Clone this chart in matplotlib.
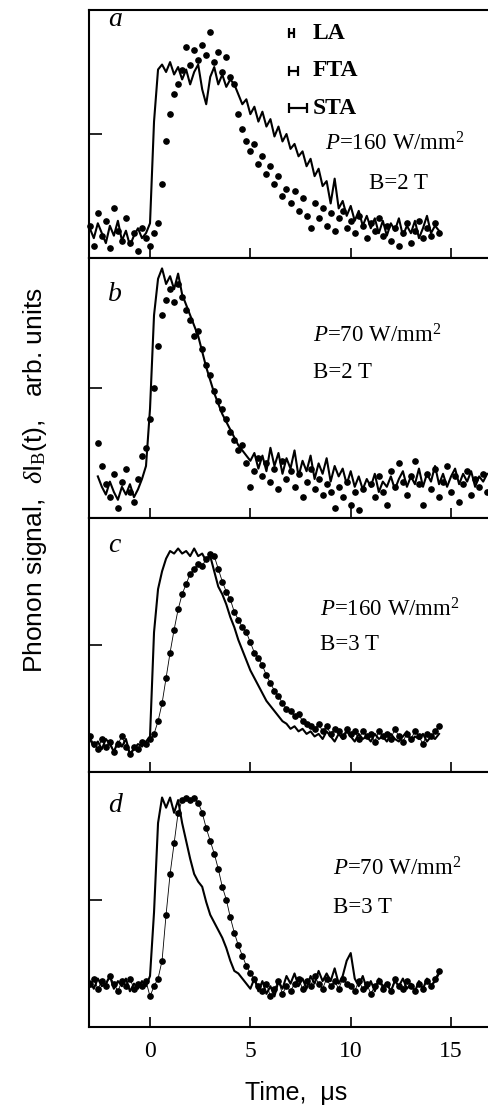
import numpy as np
import matplotlib as mpl
mpl.use('Agg')
import matplotlib.pyplot as plt

mpl.rcParams['font.family'] = 'serif'
mpl.rcParams['font.serif'] = ['Liberation Serif', 'DejaVu Serif']
mpl.rcParams['mathtext.fontset'] = 'custom'
mpl.rcParams['mathtext.rm'] = 'Liberation Serif'
mpl.rcParams['mathtext.it'] = 'Liberation Serif:italic'
mpl.rcParams['xtick.direction'] = 'in'
mpl.rcParams['ytick.direction'] = 'in'

# time grids, us
t_a = np.round(np.arange(-3.0, 14.41, 0.2), 1)     # panels a, c, d
t_b = np.round(np.arange(-2.6, 16.81, 0.2), 1)     # panel b

# ---- panel a: P=160 W/mm2, B=2 T
a_line = [0.12, 0.08, 0.14, 0.10, 0.06, 0.13, 0.09, 0.15, 0.07, 0.11, 0.05, 0.09, 0.12, 0.08, 0.10,
          0.14, 0.55, 0.76, 0.78, 0.75, 0.79, 0.74, 0.77, 0.72, 0.76, 0.70, 0.75, 0.78, 0.68, 0.62,
          0.73, 0.77, 0.70, 0.74, 0.69, 0.72, 0.70, 0.66, 0.62, 0.64, 0.58, 0.61, 0.55, 0.59, 0.53,
          0.56, 0.49, 0.53, 0.47, 0.50, 0.44, 0.46, 0.41, 0.43, 0.37, 0.40, 0.33, 0.36, 0.29, 0.31,
          0.22, 0.32, 0.20, 0.23, 0.17, 0.21, 0.15, 0.19, 0.13, 0.17, 0.12, 0.16, 0.10, 0.15, 0.09,
          0.14, 0.11, 0.16, 0.09, 0.13, 0.10, 0.15, 0.08, 0.12, 0.17, 0.10, 0.13, 0.11]
a_dots = [0.13, 0.05, 0.18, 0.09, 0.15, 0.04, 0.20, 0.11, 0.07, 0.16, 0.06, 0.10, 0.03, 0.12, 0.08,
          0.05, 0.10, 0.14, 0.30, 0.47, 0.58, 0.66, 0.70, 0.76, 0.85, 0.78, 0.84, 0.80, 0.86, 0.82,
          0.91, 0.79, 0.83, 0.75, 0.81, 0.73, 0.70, 0.58, 0.52, 0.47, 0.43, 0.46, 0.38, 0.41, 0.34,
          0.37, 0.30, 0.33, 0.25, 0.28, 0.22, 0.27, 0.19, 0.24, 0.17, 0.12, 0.22, 0.16, 0.20, 0.13,
          0.18, 0.11, 0.16, 0.19, 0.12, 0.15, 0.10, 0.17, 0.13, 0.08, 0.14, 0.11, 0.16, 0.09, 0.13,
          0.07, 0.12, 0.05, 0.10, 0.14, 0.06, 0.11, 0.15, 0.08, 0.12, 0.09, 0.14, 0.10]

# ---- panel b: P=70 W/mm2, B=2 T
b_line = [0.16, 0.12, 0.09, 0.14, 0.10, 0.07, 0.12, 0.09, 0.13, 0.08, 0.11, 0.15, 0.20,
          0.42, 0.78, 0.92, 0.96, 0.90, 0.93, 0.88, 0.94, 0.86, 0.82, 0.78, 0.74, 0.70, 0.64,
          0.58, 0.53, 0.48, 0.44, 0.40, 0.37, 0.34, 0.31, 0.28, 0.26, 0.24, 0.22, 0.25, 0.19,
          0.24, 0.18, 0.27, 0.20, 0.25, 0.17, 0.23, 0.19, 0.26, 0.16, 0.22, 0.18, 0.24, 0.15,
          0.21, 0.17, 0.23, 0.14, 0.20, 0.16, 0.19, 0.13, 0.18, 0.12, 0.16, 0.11, 0.15, 0.12,
          0.17, 0.10, 0.14, 0.12, 0.16, 0.11, 0.15, 0.18, 0.12, 0.16, 0.13, 0.19, 0.12, 0.17,
          0.14, 0.20, 0.13, 0.17, 0.12, 0.16, 0.19, 0.13, 0.17, 0.14, 0.18, 0.12, 0.16, 0.14, 0.17]
b_dots = [0.29, 0.20, 0.13, 0.08, 0.17, 0.04, 0.14, 0.19, 0.10, 0.06, 0.15, 0.24, 0.27,
          0.38, 0.50, 0.66, 0.78, 0.84, 0.88, 0.83, 0.90, 0.85, 0.80, 0.76, 0.70, 0.72, 0.65,
          0.59, 0.55, 0.49, 0.45, 0.42, 0.38, 0.33, 0.30, 0.26, 0.28, 0.21, 0.12, 0.18, 0.23,
          0.16, 0.21, 0.14, 0.19, 0.11, 0.22, 0.15, 0.18, 0.12, 0.17, 0.08, 0.14, 0.19, 0.11,
          0.15, 0.09, 0.13, 0.10, 0.04, 0.12, 0.08, 0.14, 0.05, 0.10, 0.03, 0.11, -0.03, 0.13,
          0.08, 0.16, 0.10, 0.05, 0.18, 0.12, 0.21, 0.14, 0.09, 0.16, 0.22, 0.13, 0.05, 0.17,
          0.11, 0.19, 0.08, 0.14, 0.20, 0.10, 0.16, 0.06, 0.13, 0.18, 0.09, 0.15, 0.12, 0.17, 0.10]

# ---- panel c: P=160 W/mm2, B=3 T
c_line = [0.13, 0.10, 0.12, 0.09, 0.13, 0.11, 0.08, 0.12, 0.10, 0.13, 0.07, 0.09, 0.11, 0.10, 0.12,
          0.14, 0.55, 0.72, 0.79, 0.84, 0.87, 0.86, 0.88, 0.86, 0.87, 0.85, 0.88, 0.85, 0.86, 0.83,
          0.85, 0.79, 0.73, 0.70, 0.66, 0.61, 0.57, 0.52, 0.48, 0.44, 0.40, 0.37, 0.34, 0.31, 0.28,
          0.26, 0.24, 0.22, 0.20, 0.19, 0.17, 0.18, 0.16, 0.17, 0.15,
          0.16, 0.14, 0.15, 0.13, 0.16, 0.14, 0.12, 0.15, 0.13, 0.16, 0.14, 0.12, 0.15, 0.13, 0.14,
          0.12, 0.15, 0.13, 0.14, 0.12, 0.15, 0.13, 0.12, 0.14, 0.16, 0.12, 0.14, 0.13, 0.15, 0.12,
          0.14, 0.13, 0.15]
c_dots = [0.14, 0.11, 0.09, 0.13, 0.10, 0.12, 0.08, 0.11, 0.14, 0.10, 0.07, 0.10, 0.09, 0.12, 0.11,
          0.13, 0.15, 0.20, 0.27, 0.37, 0.47, 0.56, 0.64, 0.70, 0.74, 0.78, 0.80, 0.82, 0.81, 0.84,
          0.86, 0.85, 0.80, 0.75, 0.71, 0.68, 0.63, 0.60, 0.57, 0.55, 0.51, 0.47, 0.45, 0.42, 0.38,
          0.35, 0.32, 0.30, 0.27, 0.25, 0.24, 0.22, 0.23, 0.20, 0.19, 0.18,
          0.17, 0.19, 0.16, 0.18, 0.15, 0.17, 0.16, 0.14, 0.17, 0.15, 0.16, 0.13, 0.16, 0.14, 0.15,
          0.12, 0.16, 0.14, 0.15, 0.13, 0.17, 0.14, 0.12, 0.15, 0.13, 0.16, 0.14, 0.11, 0.15, 0.14,
          0.16, 0.18]

# ---- panel d: P=70 W/mm2, B=3 T
d_line = [0.18, 0.15, 0.19, 0.16, 0.17, 0.20, 0.15, 0.18, 0.16, 0.19, 0.14, 0.17, 0.15, 0.18, 0.16,
          0.20, 0.45, 0.80, 0.90, 0.86, 0.90, 0.84, 0.89, 0.80, 0.73, 0.66, 0.60, 0.57, 0.55, 0.49,
          0.44, 0.41, 0.38, 0.35, 0.31, 0.26, 0.22, 0.21, 0.19, 0.17,
          0.15, 0.19, 0.14, 0.18, 0.13, 0.16, 0.12, 0.18, 0.15, 0.20, 0.17, 0.21, 0.16, 0.19, 0.15,
          0.20, 0.17, 0.22, 0.18, 0.21, 0.18, 0.23, 0.17, 0.20, 0.26, 0.29, 0.19, 0.16, 0.20, 0.15,
          0.18, 0.14, 0.19, 0.16, 0.17, 0.14, 0.18, 0.16, 0.19, 0.15, 0.17, 0.14, 0.18, 0.15, 0.19,
          0.16, 0.18, 0.21]
d_dots = [0.17, 0.19, 0.15, 0.18, 0.16, 0.20, 0.17, 0.14, 0.18, 0.16, 0.19, 0.15, 0.17, 0.16, 0.18,
          0.12, 0.16, 0.19, 0.26, 0.44, 0.60, 0.72, 0.84, 0.89, 0.90, 0.89, 0.90, 0.88, 0.84, 0.78,
          0.73, 0.68, 0.62, 0.55, 0.50, 0.43, 0.37, 0.32, 0.28, 0.24, 0.21,
          0.19, 0.16, 0.14, 0.17, 0.12, 0.15, 0.18, 0.13, 0.16, 0.14, 0.17, 0.19, 0.15, 0.18, 0.16,
          0.20, 0.17, 0.15, 0.19, 0.16, 0.18, 0.15, 0.19, 0.17, 0.16, 0.14, 0.18, 0.15, 0.17, 0.13,
          0.16, 0.18, 0.15, 0.17, 0.14, 0.19, 0.16, 0.15, 0.18, 0.16, 0.14, 0.17, 0.15, 0.18, 0.16,
          0.19, 0.22]

panel_letters = ['a', 'b', 'c', 'd']
powers = ['160', '70', '160', '70']
fields = ['B=2 T', 'B=2 T', 'B=3 T', 'B=3 T']

# mode time-spread bars in panel a
mode_names = ['LA', 'FTA', 'STA']
mode_widths = [0.25, 0.45, 0.9]

series = [(t_a, a_line, a_dots), (t_b, b_line, b_dots),
          (t_a, c_line, c_dots), (t_a, d_line, d_dots)]

# panel edges in pixels (top, bottom)
W, H = 488, 1116
edges = [(10, 258), (258, 518), (518, 772), (772, 1027)]
left_px = 89

# text positions (x in us, y in axes fraction)
letter_y = [0.96, 0.86, 0.89, 0.87]
note_x = [8.7, 8.1, 8.45, 9.1]
note_x2 = [10.9, 8.1, 8.45, 9.1]
note_y = [(0.46, 0.30), (0.70, 0.56), (0.64, 0.50), (0.62, 0.47)]

sans = ['Liberation Sans', 'DejaVu Sans']

fig = plt.figure(figsize=(W / 100., H / 100.), dpi=100)

for k, (t, yl, yd) in enumerate(series):
    top, bot = edges[k]
    ax = fig.add_axes([left_px / W, 1 - bot / H, 1 - left_px / W, (bot - top) / H])
    ax.plot(t, yl, color='black', lw=1.5, zorder=3)
    if k < 2:
        ax.plot(t, yd, ls='none', marker='o', ms=3.8, color='black',
                clip_on=False, zorder=2)
    else:
        ax.plot(t, yd, ls='-', lw=0.6, marker='o', ms=3.8, color='black', zorder=2)

    ax.set_xlim(-3.04, 16.84)
    ax.set_ylim(0, 1)
    ax.set_xticks([0, 5, 10, 15])
    ax.set_yticks([0.5])
    ax.set_yticklabels([])
    ax.tick_params(axis='x', length=7, width=1.2, labelsize=17, pad=10)
    ax.tick_params(axis='y', length=9, width=1.2)
    if k < 3:
        ax.set_xticklabels([])
    ax.spines['right'].set_visible(False)
    for s in ('left', 'top', 'bottom'):
        ax.spines[s].set_linewidth(1.5)

    tr = ax.get_xaxis_transform()
    ax.text(-2.1, letter_y[k], panel_letters[k], transform=tr,
            style='italic', fontsize=20, va='center', ha='left')
    ax.text(note_x[k], note_y[k][0], '$P$=%s W/mm$^2$' % powers[k],
            transform=tr, fontsize=16.5, va='center')
    ax.text(note_x2[k], note_y[k][1], fields[k],
            transform=tr, fontsize=16.5, va='center')

    if k == 0:
        for m, (name, w) in enumerate(zip(mode_names, mode_widths)):
            yy = 0.907 - 0.152 * m
            ax.errorbar(6.92 + w / 2, yy, xerr=w / 2, color='black', lw=1.6,
                        capsize=3.5, capthick=1.6, fmt='none', transform=tr)
            ax.text(8.1, yy, name, transform=tr,
                    fontsize=17, fontweight='bold', va='center')

fig.text(0.607, 1 - 1093 / H, 'Time,  \u03bcs', family=sans,
         fontsize=18, ha='center', va='center')
fig.text(0.072, 1 - 480 / H, 'Phonon signal,  $\\delta$I$_{\\rm B}$(t),   arb. units',
         family=sans, fontsize=19, rotation=90, ha='center', va='center')

fig.savefig('out.png', dpi=100)
